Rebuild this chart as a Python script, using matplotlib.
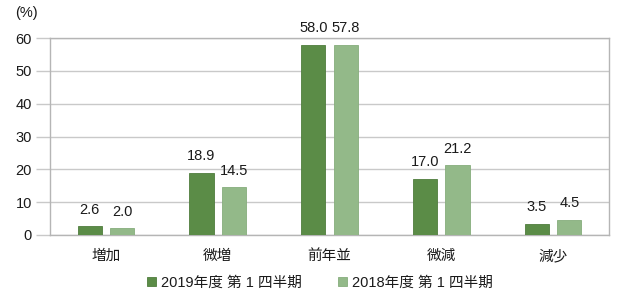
import matplotlib
matplotlib.use("Agg")
import matplotlib.pyplot as plt
import numpy as np

plt.rcParams['font.family'] = ['Liberation Sans', 'Noto Sans CJK JP', 'DejaVu Sans']

categories = ['増加', '微増', '前年並', '微減', '減少']
series_names = ['2019年度 第 1 四半期', '2018年度 第 1 四半期']
values_2019 = [2.6, 18.9, 58.0, 17.0, 3.5]
values_2018 = [2.0, 14.5, 57.8, 21.2, 4.5]
yticks = [0, 10, 20, 30, 40, 50, 60]

dark = '#5b8c47'
light = '#93b989'
grid_c = '#c9c9c9'
txt_c = '#1a1a1a'

fig = plt.figure(figsize=(6.4, 2.99), dpi=100)
ax = fig.add_axes([50/640, 1 - 235/299, 559/640, 197/299])

x = np.arange(len(categories))
w = 0.215
off = 0.145
b1 = ax.bar(x - off, values_2019, w, color=dark, edgecolor='#4f7d3d', linewidth=0.6, label=series_names[0], zorder=3)
b2 = ax.bar(x + off, values_2018, w, color=light, edgecolor='#86ad7c', linewidth=0.6, label=series_names[1], zorder=3)

for bars, vals in ((b1, values_2019), (b2, values_2018)):
    for r, v in zip(bars, vals):
        ax.text(r.get_x() + r.get_width()/2, v + 3.0, f'{v:.1f}', ha='center', va='bottom',
                fontsize=10.5, color=txt_c)

ax.set_xlim(-0.5, len(categories) - 0.5)
ax.set_ylim(0, 60)
ax.set_yticks(yticks)
ax.set_yticklabels([str(t) for t in yticks], fontsize=10.5, color=txt_c)
ax.set_xticks(x)
ax.set_xticklabels(categories, fontsize=10.5, color=txt_c, family=['Noto Sans CJK JP'])
ax.tick_params(axis='x', length=0, pad=10)
ax.tick_params(axis='y', length=10, color=grid_c, width=1, pad=3)
ax.yaxis.grid(True, color=grid_c, linewidth=1, zorder=0)
ax.set_axisbelow(True)
for s in ax.spines.values():
    s.set_color('#b5b5b5')
    s.set_linewidth(1)

fig.text(15/640, 1 - 13/299, '(%)', ha='left', va='center', fontsize=10.5, color=txt_c)

leg = fig.legend(handles=[b1, b2], labels=series_names, loc='center', bbox_to_anchor=(0.5, 1 - 283/299),
                 ncol=2, frameon=False, fontsize=10.5, handlelength=0.6, handleheight=0.6,
                 handletextpad=0.35, columnspacing=2.5)
for t in leg.get_texts():
    t.set_color(txt_c)

fig.savefig('out.png', dpi=100)
